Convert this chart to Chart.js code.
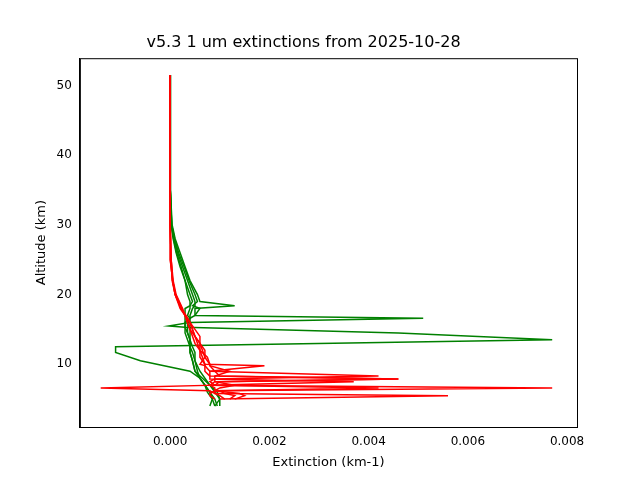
<!DOCTYPE html>
<html><head><script src="https://cdn.jsdelivr.net/npm/chart.js"></script>
<style>body{margin:0}#c{width:640px;height:480px}</style></head><body>
<div id="c"><canvas id="cv" width="640" height="480"></canvas></div>
<script>
const title = "v5.3 1 um extinctions from 2025-10-28";
const altG = [51.5,45,40,35,30,28,26,24,22,20,19,18.4,18,17,16.6,16,15.5,15.3,14.5,13.5,12.5,11.7,10.5,9,8,7,6,5,4];
const green1 = [0,0,0,0.00001,0.00003,0.00008,0.00015,0.00025,0.00035,0.00045,0.0005,0.0005,0.00045,0.0004,0.0004,0.00035,0.00035,0.0004,0.0004,0.0004,0.00045,0.0005,0.0005,0.00055,0.0006,0.0007,0.0008,0.0009,0.00095];
const green2 = [0,0,0,0.00001,0.00004,0.0001,0.0002,0.0003,0.0004,0.00055,0.0006,0.0013,0.0005,0.0005,0.0051,0.0004,0.0004,0.00035,0.00035,0.0004,0.0004,0.00045,0.0005,0.0006,0.0007,0.0008,0.0009,0.001,0.0009];
const green3 = [0,0,0,0.00001,0.00002,0.00007,0.00013,0.00022,0.0003,0.0004,0.00045,0.0004,0.0004,0.00035,0.0004,0.0004,-0.00003,0.0003,0.0046,0.0077,-0.0011,-0.0011,-0.0006,0.0004,0.0006,0.0007,0.0008,0.00085,0.0008];
const green4 = [0,0,0,0.00001,0.00003,0.00009,0.00017,0.00028,0.00038,0.0005,0.00055,0.00045,0.0006,0.0005,0.0004,0.0003,0.0003,0.0003,0.00035,0.0004,0.0004,0.0004,0.00045,0.0005,0.00065,0.0008,0.00095,0.001,0.001];
const green5 = [0,0,0,0.00001,0.00002,0.00006,0.00012,0.0002,0.0003,0.00035,0.0004,0.0004,0.0003,0.0003,0.0003,0.0003,0.0003,0.0003,0.0003,0.00035,0.0004,0.0004,0.00045,0.0005,0.0006,0.0007,0.00075,0.00085,0.0009];
const altR = [51.5,45,40,35,30,25,22,20,18,17,16,15,14,13,12,11,10,9.8,9,8.3,7.9,7.5,7,6.6,6.2,5.8,5.5,5];
const red1 = [0,0,0,0,0,0.00002,0.00006,0.00012,0.00025,0.0003,0.00035,0.0004,0.00045,0.0005,0.0006,0.00065,0.0007,0.0019,0.0008,0.0008,0.0046,0.0009,0.0008,0.0077,0.0009,0.0009,0.001,0.0011];
const red2 = [0,0,0,0,0,0.00001,0.00005,0.0001,0.0002,0.0003,0.0004,0.00045,0.0005,0.00055,0.0006,0.0006,0.0007,0.0007,0.0008,0.0042,0.0009,0.0008,0.0009,-0.0014,0.0008,0.0009,0.0056,0.001];
const red3 = [0,0,0,0,0,0.00002,0.00004,0.0001,0.00022,0.0003,0.0004,0.0005,0.0006,0.0006,0.00065,0.0007,0.0008,0.0008,0.0009,0.001,0.0046,0.001,0.0009,0.0042,0.001,0.0011,0.0013,0.0012];
const red4 = [0,0,0,0,0,0.00001,0.00005,0.00011,0.00024,0.0003,0.00035,0.0004,0.0005,0.0006,0.0007,0.0007,0.0006,0.0007,0.0007,0.0008,0.0008,0.0037,0.0008,0.0009,0.0009,0.0014,0.0015,0.0013];
const red5 = [0,0,0,0,0,0.00002,0.00005,0.0001,0.00022,0.00032,0.0004,0.00045,0.0005,0.0006,0.0006,0.00075,0.0008,0.0008,0.0012,0.0009,0.0009,0.0009,0.0013,0.001,0.0009,0.0008,0.0008,0.0009];
function pts(xs, alts){return xs.map((v,i)=>({x:v,y:alts[i]}));}
const G='#008000', R='#ff0000';
const ds=[];
[red1,red2,red3,red4,red5].forEach(r=>ds.push({data:pts(r,altR),borderColor:R}));
[green1,green2,green3,green4,green5].forEach(g=>ds.push({data:pts(g,altG),borderColor:G}));
ds.forEach(d=>{d.showLine=true;d.pointRadius=0;d.borderWidth=1.5;d.tension=0;});
const frame={id:'frame',afterDraw(c){const a=c.chartArea,x=c.ctx;x.save();x.strokeStyle='#000';x.lineWidth=1;x.strokeRect(a.left+0.5,a.top+0.5,a.right-a.left,a.bottom-a.top);x.restore();}};
new Chart(document.getElementById('cv'),{type:'scatter',data:{datasets:ds},plugins:[frame],
options:{responsive:false,animation:false,devicePixelRatio:1,
layout:{padding:{left:30,right:63,top:33,bottom:6}},
plugins:{legend:{display:false},title:{display:true,text:title,color:'#000',padding:{top:0,bottom:6},font:{family:'DejaVu Sans',size:16,weight:'normal'}}},
scales:{
x:{min:-0.00182,max:0.0082,title:{display:true,text:'Extinction (km-1)',color:'#000',padding:{top:2},font:{family:'DejaVu Sans',size:13}},
afterBuildTicks:a=>{a.ticks=[0,0.002,0.004,0.006,0.008].map(v=>({value:v}));},
ticks:{color:'#000',font:{family:'DejaVu Sans',size:12},callback:v=>v.toFixed(3)},grid:{display:false,tickLength:5},border:{color:'#000'}},
y:{min:1,max:53.9,title:{display:true,text:'Altitude (km)',color:'#000',font:{family:'DejaVu Sans',size:13}},
afterBuildTicks:a=>{a.ticks=[10,20,30,40,50].map(v=>({value:v}));},
ticks:{color:'#000',font:{family:'DejaVu Sans',size:12}},grid:{display:false,tickLength:5},border:{color:'#000'}}}}});
</script></body></html>
